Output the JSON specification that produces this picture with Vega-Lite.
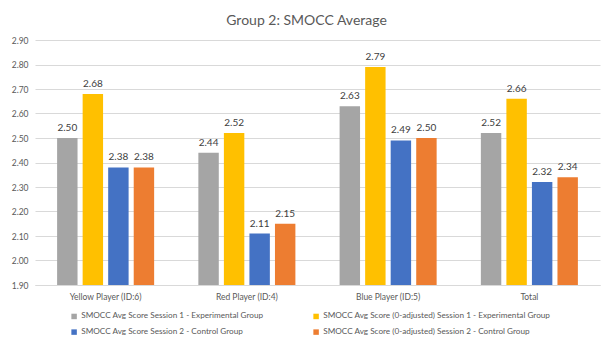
{
  "$schema": "https://vega.github.io/schema/vega-lite/v6.json",
  "autosize": "none",
  "width": 565,
  "height": 245,
  "padding": {"left": 35, "top": 40, "right": 4, "bottom": 60},
  "background": "white",
  "title": {
    "text": "Group 2: SMOCC Average",
    "fontSize": 14,
    "font": "Lato",
    "fontWeight": "normal",
    "color": "#595959",
    "anchor": "middle",
    "offset": 8,
    "dx": -11
  },
  "data": {
    "values": [
      {"cat": "Yellow Player (ID:6)", "series": "SMOCC Avg Score Session 1 - Experimental Group", "value": 2.50},
      {"cat": "Yellow Player (ID:6)", "series": "SMOCC Avg Score (0-adjusted) Session 1 - Experimental Group", "value": 2.68},
      {"cat": "Yellow Player (ID:6)", "series": "SMOCC Avg Score Session 2 - Control Group", "value": 2.38},
      {"cat": "Yellow Player (ID:6)", "series": "SMOCC Avg Score (0-adjusted) Session 2 - Control Group", "value": 2.38},
      {"cat": "Red Player (ID:4)", "series": "SMOCC Avg Score Session 1 - Experimental Group", "value": 2.44},
      {"cat": "Red Player (ID:4)", "series": "SMOCC Avg Score (0-adjusted) Session 1 - Experimental Group", "value": 2.52},
      {"cat": "Red Player (ID:4)", "series": "SMOCC Avg Score Session 2 - Control Group", "value": 2.11},
      {"cat": "Red Player (ID:4)", "series": "SMOCC Avg Score (0-adjusted) Session 2 - Control Group", "value": 2.15},
      {"cat": "Blue Player (ID:5)", "series": "SMOCC Avg Score Session 1 - Experimental Group", "value": 2.63},
      {"cat": "Blue Player (ID:5)", "series": "SMOCC Avg Score (0-adjusted) Session 1 - Experimental Group", "value": 2.79},
      {"cat": "Blue Player (ID:5)", "series": "SMOCC Avg Score Session 2 - Control Group", "value": 2.49},
      {"cat": "Blue Player (ID:5)", "series": "SMOCC Avg Score (0-adjusted) Session 2 - Control Group", "value": 2.50},
      {"cat": "Total", "series": "SMOCC Avg Score Session 1 - Experimental Group", "value": 2.52},
      {"cat": "Total", "series": "SMOCC Avg Score (0-adjusted) Session 1 - Experimental Group", "value": 2.66},
      {"cat": "Total", "series": "SMOCC Avg Score Session 2 - Control Group", "value": 2.32},
      {"cat": "Total", "series": "SMOCC Avg Score (0-adjusted) Session 2 - Control Group", "value": 2.34}
    ]
  },
  "encoding": {
    "x": {
      "field": "cat",
      "type": "nominal",
      "sort": ["Yellow Player (ID:6)", "Red Player (ID:4)", "Blue Player (ID:5)", "Total"],
      "scale": {"paddingInner": 0.313, "paddingOuter": 0.1565},
      "axis": {
        "title": null,
        "labelAngle": 0,
        "ticks": false,
        "domainColor": "#d9d9d9",
        "labelColor": "#595959",
        "labelFont": "Lato",
        "labelFontSize": 8.5,
        "labelPadding": 7
      }
    },
    "xOffset": {
      "field": "series",
      "type": "nominal",
      "sort": [
        "SMOCC Avg Score Session 1 - Experimental Group",
        "SMOCC Avg Score (0-adjusted) Session 1 - Experimental Group",
        "SMOCC Avg Score Session 2 - Control Group",
        "SMOCC Avg Score (0-adjusted) Session 2 - Control Group"
      ],
      "scale": {"paddingInner": 0.2, "paddingOuter": 0}
    },
    "y": {
      "field": "value",
      "type": "quantitative",
      "scale": {"domain": [1.9, 2.9], "nice": false, "zero": false},
      "axis": {
        "title": null,
        "values": [1.9, 2.0, 2.1, 2.2, 2.3, 2.4, 2.5, 2.6, 2.7, 2.8, 2.9],
        "format": ".2f",
        "ticks": false,
        "domain": false,
        "gridColor": "#d9d9d9",
        "labelColor": "#595959",
        "labelFont": "Lato",
        "labelFontSize": 8.5,
        "labelPadding": 7
      }
    }
  },
  "layer": [
    {
      "mark": {"type": "bar"},
      "encoding": {
        "y2": {"datum": 1.9},
        "color": {
          "field": "series",
          "type": "nominal",
          "scale": {
            "domain": [
              "SMOCC Avg Score Session 1 - Experimental Group",
              "SMOCC Avg Score (0-adjusted) Session 1 - Experimental Group",
              "SMOCC Avg Score Session 2 - Control Group",
              "SMOCC Avg Score (0-adjusted) Session 2 - Control Group"
            ],
            "range": ["#A5A5A5", "#FFC000", "#4472C4", "#ED7D31"]
          },
          "legend": {
            "title": null,
            "orient": "none",
            "direction": "horizontal",
            "legendX": 35,
            "legendY": 272,
            "columns": 2,
            "columnPadding": 48,
            "rowPadding": 7,
            "padding": 0,
            "symbolType": "square",
            "symbolSize": 30,
            "symbolStrokeWidth": 0,
            "labelFont": "Lato",
            "labelFontSize": 8.2,
            "labelColor": "#595959",
            "labelLimit": 400,
            "labelOffset": 3
          }
        }
      }
    },
    {
      "mark": {"type": "text", "baseline": "bottom", "dy": -5, "font": "Lato", "fontSize": 10, "color": "#404040"},
      "encoding": {
        "text": {"field": "value", "type": "quantitative", "format": ".2f"}
      }
    }
  ],
  "config": {
    "view": {"stroke": null}
  }
}
